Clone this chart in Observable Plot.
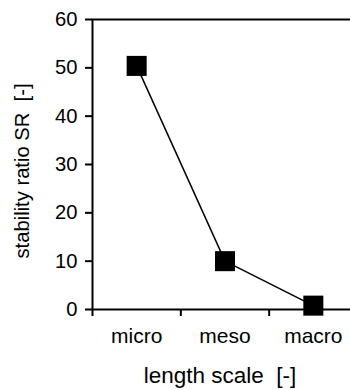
<!DOCTYPE html>
<html>
<head>
<meta charset="utf-8">
<script src="https://cdn.jsdelivr.net/npm/d3@7"></script>
<script src="https://cdn.jsdelivr.net/npm/@observablehq/plot@0.6"></script>
<style>
  html, body { margin: 0; padding: 0; background: #fff; }
  svg text { white-space: pre; }
</style>
</head>
<body>
<div id="chart"></div>
<script>
const categories = ["micro", "meso", "macro"];
const values = [50.4, 10, 0.8];
const yTicks = [0, 10, 20, 30, 40, 50, 60];
const xLabel = "length scale  [-]";
const yLabel = "stability ratio SR  [-]";

const data = categories.map((c, i) => ({cat: c, pos: i + 0.5, value: values[i]}));
const boundaries = d3.range(categories.length + 1);
const centers = categories.map((c, i) => i + 0.5);

const font = "Liberation Sans, Arial, Helvetica, sans-serif";

const chart = Plot.plot({
  width: 350,
  height: 390,
  marginLeft: 92,
  marginTop: 19,
  marginBottom: 81,
  marginRight: -7,
  style: {fontFamily: font, fontSize: "20px", color: "#000", background: "#fff"},
  x: {domain: [0, categories.length]},
  y: {domain: [0, 60]},
  marks: [
    Plot.frame({stroke: "#000", strokeWidth: 2}),
    Plot.axisY({ticks: yTicks, tickSize: 7, tickPadding: 8, fontSize: 20.2, label: null, strokeWidth: 2}),
    Plot.axisX({ticks: boundaries, tickSize: 7, tickFormat: () => "", label: null, strokeWidth: 2}),
    Plot.axisX({ticks: centers, tickSize: 0, tickPadding: 19, fontSize: 21, tickFormat: d => categories[Math.floor(d)], label: null}),
    Plot.text([yLabel], {frameAnchor: "left", textAnchor: "middle", lineAnchor: "middle", dx: -70, dy: 6.5, rotate: -90, fontSize: 20.2, text: d => d}),
    Plot.text([xLabel], {frameAnchor: "bottom", textAnchor: "middle", lineAnchor: "middle", dx: -5, dy: 66, fontSize: 22.5, text: d => d}),
    Plot.line(data, {x: "pos", y: "value", stroke: "#000", strokeWidth: 1.5}),
    Plot.dot(data, {x: "pos", y: "value", symbol: "square", r: 11.3, fill: "#000", stroke: "none"})
  ]
});
document.getElementById("chart").appendChild(chart);
</script>
</body>
</html>
